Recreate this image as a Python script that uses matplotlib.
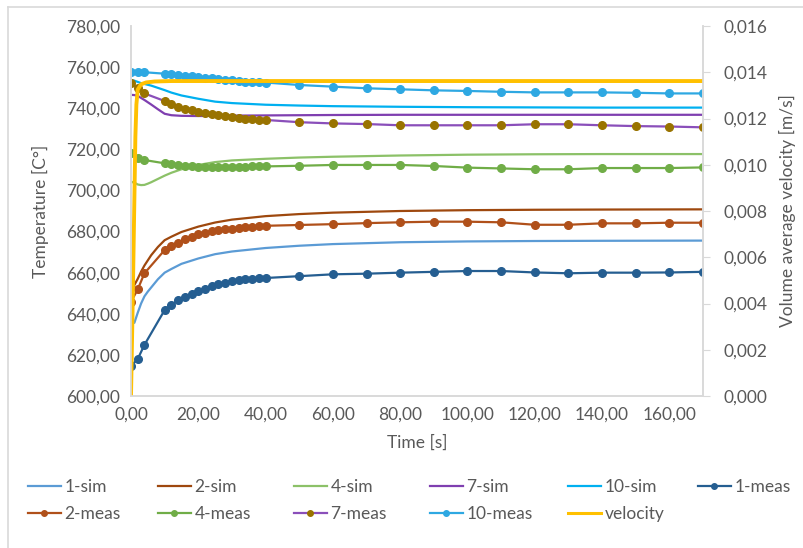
import matplotlib

matplotlib.use("Agg")
import matplotlib.pyplot as plt
from matplotlib.lines import Line2D
from matplotlib.ticker import FuncFormatter

plt.rcParams["font.family"] = ["Lato", "DejaVu Sans"]

GREY = "#595959"
AXIS = "#D9D9D9"

# measured points (s)
t_meas = [0, 2, 4, 10, 12, 14, 16, 18, 20, 22, 24, 26, 28, 30, 32, 34, 36, 38, 40,
          50, 60, 70, 80, 90, 100, 110, 120, 130, 140, 150, 160, 170]
meas_1 = [614.6, 618.0, 624.9, 641.8, 644.2, 646.7, 648.3, 649.6, 651.0, 652.2, 653.5,
          654.5, 655.1, 655.8, 656.4, 656.7, 657.1, 657.2, 657.4, 658.3, 659.2, 659.5,
          660.0, 660.4, 660.8, 660.8, 660.1, 659.7, 660.0, 660.0, 660.1, 660.4]
meas_2 = [645.8, 651.9, 659.7, 671.0, 673.0, 674.6, 676.2, 677.5, 678.6, 679.4, 680.1,
          680.6, 681.1, 681.4, 681.7, 682.0, 682.3, 682.5, 682.8, 683.2, 683.6, 684.1,
          684.5, 684.8, 684.8, 684.5, 683.3, 683.3, 684.0, 684.0, 684.3, 684.3]
meas_4 = [718.0, 715.9, 714.8, 713.2, 712.7, 712.3, 711.9, 711.7, 711.6, 711.5, 711.5,
          711.5, 711.5, 711.6, 711.6, 711.6, 711.7, 711.7, 711.7, 712.0, 712.4, 712.4,
          712.4, 711.9, 711.1, 710.7, 710.3, 710.3, 710.9, 710.9, 710.9, 711.2]
meas_7 = [752.1, 749.7, 747.2, 743.5, 742.0, 740.7, 739.8, 739.0, 738.3, 737.5, 737.0,
          736.5, 736.1, 735.6, 735.2, 734.9, 734.6, 734.4, 734.3, 733.2, 732.6, 732.3,
          731.7, 731.7, 731.7, 731.7, 732.2, 732.2, 731.7, 731.3, 731.1, 730.7]
meas_10 = [757.8, 757.5, 757.5, 756.8, 756.5, 756.2, 755.8, 755.5, 755.2, 754.8, 754.5,
           754.2, 753.9, 753.6, 753.3, 753.0, 752.8, 752.6, 752.5, 751.3, 750.5, 749.7,
           749.2, 748.7, 748.4, 748.0, 747.7, 747.7, 747.7, 747.5, 747.2, 747.2]

# simulation curves (s)
t_sim = [0, 1, 2, 3, 4, 5, 6, 8, 10, 12, 15, 20, 25, 30, 40, 50, 60, 80, 100, 120, 140, 170]
sim_1 = [636.0, 635.6, 640.5, 645.0, 648.5, 650.8, 652.8, 656.8, 660.0, 661.8, 664.3,
         666.9, 669.0, 670.3, 672.0, 673.1, 673.9, 674.8, 675.2, 675.4, 675.5, 675.6]
sim_2 = [651.0, 654.0, 657.0, 660.5, 663.5, 666.0, 668.5, 672.5, 675.8, 677.5, 679.8,
         682.4, 684.4, 685.8, 687.5, 688.5, 689.2, 690.0, 690.4, 690.6, 690.7, 690.8]
sim_4 = [704.2, 703.8, 702.9, 702.6, 702.7, 703.3, 704.0, 705.6, 707.2, 708.6, 710.3,
         712.4, 713.8, 714.6, 715.4, 716.0, 716.4, 717.0, 717.4, 717.6, 717.7, 717.7]
sim_7 = [746.5, 746.4, 746.0, 745.0, 744.0, 742.9, 741.8, 739.5, 737.3, 736.6, 736.3,
         736.2, 736.3, 736.4, 736.5, 736.6, 736.7, 736.8, 736.8, 736.8, 736.8, 736.8]
sim_10 = [753.7, 753.4, 752.8, 752.2, 751.8, 751.4, 751.0, 749.9, 748.8, 747.6, 746.2,
          744.6, 743.2, 742.5, 741.7, 741.3, 741.0, 740.7, 740.5, 740.4, 740.3, 740.3]

# inlet velocity, right axis
t_vel = [0, 0.5, 1.0, 1.3, 1.6, 2.0, 3.0, 4.5, 7, 12, 170]
vel = [0, 0.004, 0.0085, 0.0112, 0.0126, 0.01325, 0.01348, 0.01356, 0.0136, 0.01362, 0.01362]

# (name, values, line colour, marker colour)
sim_series = [("1-sim", sim_1, "#5B9BD5"), ("2-sim", sim_2, "#9E480E"),
              ("4-sim", sim_4, "#8CC168"), ("7-sim", sim_7, "#7F3FB0"),
              ("10-sim", sim_10, "#00B0F0")]
meas_series = [("1-meas", meas_1, "#255E91", "#255E91"), ("2-meas", meas_2, "#B0501A", "#B0501A"),
               ("4-meas", meas_4, "#70AD47", "#70AD47"), ("7-meas", meas_7, "#8A4FBA", "#997300"),
               ("10-meas", meas_10, "#2EA8E2", "#2EA8E2")]

fig = plt.figure(figsize=(8.04, 5.48), dpi=100)
ax = fig.add_axes([131 / 804, 1 - 396 / 548, (703 - 131) / 804, (396 - 26) / 548])
ax2 = ax.twinx()

handles = {}
for name, vals, col in sim_series:
    handles[name], = ax.plot(t_sim, vals, color=col, lw=1.6, label=name)
for name, vals, col, mcol in meas_series:
    handles[name], = ax.plot(t_meas, vals, color=col, lw=1.6, marker="o", ms=5.5,
                             mfc=mcol, mec=mcol, label=name)
handles["velocity"], = ax2.plot(t_vel, vel, color="#FFC000", lw=2.8, label="velocity")

ax.set_xlim(0, 170)
ax.set_ylim(600, 780)
ax2.set_ylim(0, 0.016)
ax.set_xticks([0, 20, 40, 60, 80, 100, 120, 140, 160])
ax.set_yticks(range(600, 781, 20))
ax2.set_yticks([0, 0.002, 0.004, 0.006, 0.008, 0.010, 0.012, 0.014, 0.016])
ax.xaxis.set_major_formatter(FuncFormatter(lambda v, p: f"{v:.2f}".replace(".", ",")))
ax.yaxis.set_major_formatter(FuncFormatter(lambda v, p: f"{v:.2f}".replace(".", ",")))
ax2.yaxis.set_major_formatter(FuncFormatter(lambda v, p: f"{v:.3f}".replace(".", ",")))

for a in (ax, ax2):
    a.spines["top"].set_visible(False)
    for s in ("left", "right", "bottom"):
        a.spines[s].set_color(AXIS)
        a.spines[s].set_linewidth(1.2)
ax.tick_params(axis="both", length=0, labelsize=12.5, labelcolor=GREY, pad=8)
ax2.tick_params(axis="y", length=5, color=AXIS, labelsize=12.5, labelcolor=GREY, pad=10)

ax.set_xlabel("Time [s]", fontsize=12.5, color=GREY, labelpad=8)
ax.set_ylabel("Temperature [C°]", fontsize=12.5, color=GREY, labelpad=12)
ax2.set_ylabel("Volume average velocity [m/s]", fontsize=12.5, color=GREY, labelpad=8)

# legend, laid out column by column like the Excel one
columns = [["1-sim", "2-meas"], ["2-sim", "4-meas"], ["4-sim", "7-meas"],
           ["7-sim", "10-meas"], ["10-sim", "velocity"], ["1-meas"]]
col_x = [28, 158, 294, 430, 568, 698]
for x0, names in zip(col_x, columns):
    hs = []
    for n in names:
        h = handles[n]
        hs.append(Line2D([], [], color=h.get_color(), lw=min(h.get_linewidth(), 2.2),
                         marker=h.get_marker(), ms=4, mfc=h.get_markerfacecolor(),
                         mec=h.get_markeredgecolor(), label=n))
    fig.legend(handles=hs, loc="upper left", bbox_to_anchor=(x0 / 804, 1 - 479 / 548),
               frameon=False, fontsize=12.5, labelcolor=GREY, handlelength=1.9,
               handletextpad=0.2, labelspacing=0.62, borderpad=0, borderaxespad=0)

# outer chart frame
fig.add_artist(Line2D([8 / 804, 8 / 804], [0, 1 - 7 / 548], color=AXIS, lw=1.2))
fig.add_artist(Line2D([8 / 804, 1], [1 - 7 / 548, 1 - 7 / 548], color=AXIS, lw=1.2))

fig.savefig("out.png", dpi=100)
